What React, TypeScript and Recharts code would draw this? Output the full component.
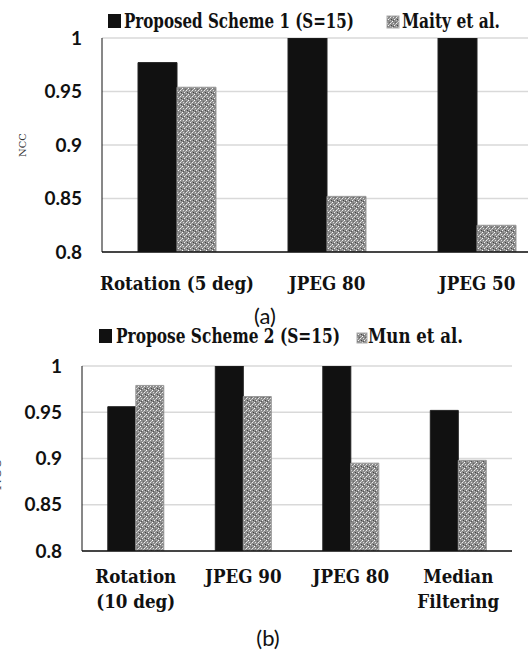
import { Bar, BarChart, CartesianGrid, XAxis, YAxis } from "recharts";

const categoriesA = ["Rotation (5 deg)", "JPEG 80", "JPEG 50"];
const proposedA = [0.977, 1.0, 1.0];
const maityA = [0.954, 0.852, 0.825];

const categoriesB = ["Rotation\n(10 deg)", "JPEG 90", "JPEG 80", "Median\nFiltering"];
const proposedB = [0.956, 1.0, 1.0, 0.952];
const munB = [0.979, 0.967, 0.895, 0.898];

const yTicks = [0.8, 0.85, 0.9, 0.95, 1];

const dataA = categoriesA.map((name, i) => ({ name, proposed: proposedA[i], other: maityA[i] }));
const dataB = categoriesB.map((name, i) => ({ name, proposed: proposedB[i], other: munB[i] }));

const serif = "DejaVu Serif, Liberation Serif, serif";
const sans = "Lato, Open Sans, sans-serif";

// DejaVu Serif is much wider than Times, squeeze it horizontally
function CatTick({ x, y, payload, first }: any) {
  const lines = String(payload.value).split("\n");
  return (
    <g transform={`translate(${x},${y}) scale(0.88,1)`}>
      {lines.map((l, i) => (
        <text
          key={i}
          x={0}
          y={first + i * 25}
          textAnchor="middle"
          fill="#111"
          style={{ fontFamily: serif, fontWeight: 700, fontSize: 19 }}
        >
          {l}
        </text>
      ))}
    </g>
  );
}

function PatternDefs({ id }: { id: string }) {
  return (
    <defs>
      <pattern id={id} width="6" height="6" patternUnits="userSpaceOnUse">
        <rect width="6" height="6" fill="#8a8a8a" />
        <rect x="0" y="0" width="1" height="1" fill="#eee" />
        <rect x="3" y="0" width="1" height="1" fill="#ddd" />
        <rect x="1" y="2" width="1" height="1" fill="#444" />
        <rect x="4" y="2" width="1" height="1" fill="#f4f4f4" />
        <rect x="0" y="3" width="1" height="1" fill="#bbb" />
        <rect x="3" y="3" width="1" height="1" fill="#555" />
        <rect x="2" y="4" width="1" height="1" fill="#fff" />
        <rect x="5" y="5" width="1" height="1" fill="#666" />
        <rect x="1" y="5" width="1" height="1" fill="#ccc" />
        <rect x="2" y="1" width="1" height="1" fill="#999" />
        <rect x="5" y="1" width="1" height="1" fill="#bdbdbd" />
      </pattern>
    </defs>
  );
}

type LegendProps = {
  top: number;
  first: string;
  second: string;
  box1: number;
  text1: [number, number];
  box2: [number, number];
  text2: [number, number];
};

function LegendRow({ top, first, second, box1, text1, box2, text2 }: LegendProps) {
  const style = { fontFamily: serif, fontWeight: 700, fontSize: 20 } as const;
  return (
    <svg width={528} height={30} style={{ position: "absolute", top, left: 0 }}>
      <rect x={box1} y={9} width={13} height={14} fill="#111" />
      <text x={text1[0]} y={23} textLength={text1[1]} lengthAdjust="spacingAndGlyphs" fill="#111" style={style}>
        {first}
      </text>
      <rect x={box2[0]} y={23 - box2[1]} width={box2[1]} height={box2[1]} fill="url(#legendPat)" stroke="#aaa" />
      <text x={text2[0]} y={23} textLength={text2[1]} lengthAdjust="spacingAndGlyphs" fill="#111" style={style}>
        {second}
      </text>
    </svg>
  );
}

export default function App() {
  return (
    <div style={{ position: "fixed", left: 0, top: 0, width: 528, height: 656, overflow: "hidden", background: "#fff" }}>
      <svg width={0} height={0} style={{ position: "absolute" }}>
        <PatternDefs id="legendPat" />
      </svg>

      <LegendRow
        top={5}
        first="Proposed Scheme 1 (S=15)"
        second="Maity et al."
        box1={108}
        text1={[124, 230]}
        box2={[387, 12]}
        text2={[402, 98]}
      />
      <div style={{ position: "absolute", top: 0, left: 0 }}>
        <BarChart
          width={560}
          height={300}
          data={dataA}
          margin={{ top: 38, right: 8, left: 0, bottom: 8 }}
          barCategoryGap="24%"
          barGap={0}
        >
          <PatternDefs id="patA" />
          <CartesianGrid vertical={false} stroke="#d9d9d9" strokeWidth={1.5} />
          <XAxis
            dataKey="name"
            axisLine={{ stroke: "#111", strokeWidth: 1.5 }}
            tickLine={false}
            tick={<CatTick first={32} />}
            tickMargin={0}
            height={40}
            interval={0}
          />
          <YAxis
            domain={[0.8, 1]}
            ticks={yTicks}
            allowDataOverflow
            width={102}
            axisLine={{ stroke: "#111", strokeWidth: 1 }}
            tickLine={false}
            tickMargin={14}
            tick={{ fill: "#111", fontFamily: sans, fontWeight: "bold", fontSize: 19 }}
            label={{
              value: "NCC",
              angle: -90,
              position: "insideLeft",
              offset: 22,
              style: { textAnchor: "middle", fontFamily: serif, fontSize: 10, fill: "#333" },
            }}
          />
          <Bar dataKey="proposed" fill="#111" stroke="#222" strokeWidth={1} isAnimationActive={false} />
          <Bar dataKey="other" fill="url(#patA)" stroke="#999" strokeWidth={1} isAnimationActive={false} />
        </BarChart>
      </div>

      <div style={{ position: "absolute", top: 305, left: 0, width: 528, textAlign: "center", fontFamily: sans, fontSize: 22, lineHeight: "22px", color: "#111" }}>
        <span style={{ position: "relative", left: 1 }}>(a)</span>
      </div>

      <LegendRow
        top={320}
        first="Propose Scheme 2 (S=15)"
        second="Mun et al."
        box1={99}
        text1={[116, 224]}
        box2={[357, 10]}
        text2={[368, 95]}
      />
      <div style={{ position: "absolute", top: 320, left: 0 }}>
        <BarChart
          width={520}
          height={300}
          data={dataB}
          margin={{ top: 46, right: 8, left: 0, bottom: 9 }}
          barCategoryGap="24%"
          barGap={0}
        >
          <PatternDefs id="patB" />
          <CartesianGrid vertical={false} stroke="#d9d9d9" strokeWidth={1.5} />
          <XAxis
            dataKey="name"
            axisLine={{ stroke: "#111", strokeWidth: 1.5 }}
            tickLine={false}
            tick={<CatTick first={26} />}
            tickMargin={0}
            height={60}
            interval={0}
          />
          <YAxis
            domain={[0.8, 1]}
            ticks={yTicks}
            allowDataOverflow
            width={82}
            axisLine={{ stroke: "#111", strokeWidth: 1 }}
            tickLine={false}
            tickMargin={14}
            tick={{ fill: "#111", fontFamily: sans, fontWeight: "bold", fontSize: 19 }}
            label={{
              value: "NCC",
              angle: -90,
              position: "insideLeft",
              offset: -4,
              dy: 16,
              style: { textAnchor: "middle", fontFamily: serif, fontSize: 13, fill: "#333" },
            }}
          />
          <Bar dataKey="proposed" fill="#111" stroke="#222" strokeWidth={1} isAnimationActive={false} />
          <Bar dataKey="other" fill="url(#patB)" stroke="#999" strokeWidth={1} isAnimationActive={false} />
        </BarChart>
      </div>

      <div style={{ position: "absolute", top: 627, left: 0, width: 528, textAlign: "center", fontFamily: sans, fontSize: 22, lineHeight: "22px", color: "#111" }}>
        <span style={{ position: "relative", left: 4 }}>(b)</span>
      </div>
    </div>
  );
}
